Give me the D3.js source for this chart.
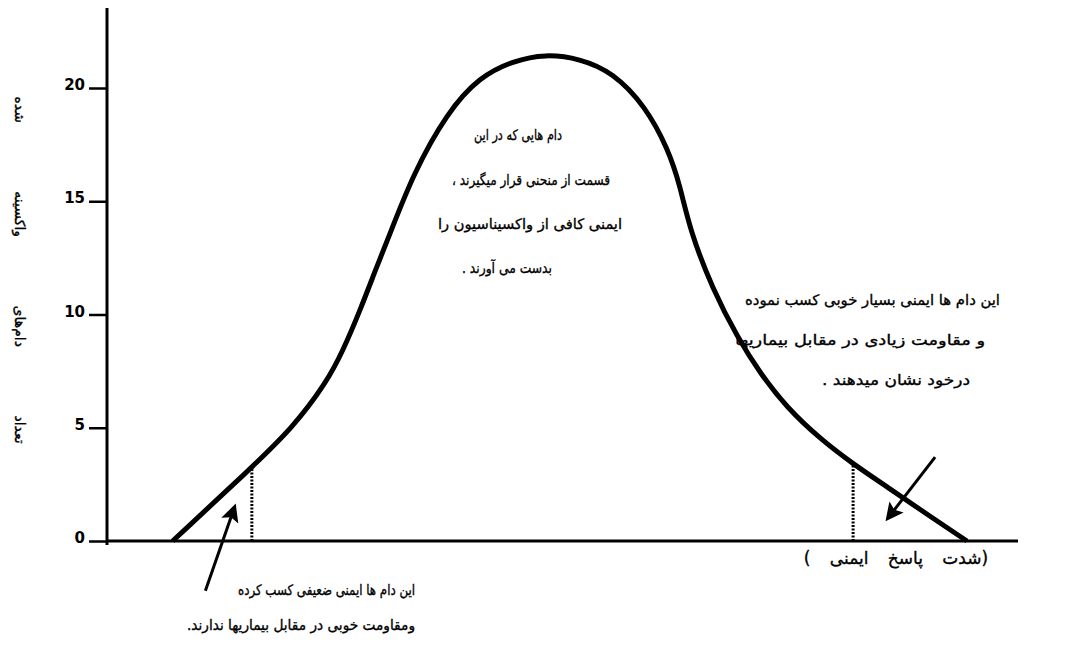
<!DOCTYPE html>
<html lang="fa">
<head>
    <meta charset="UTF-8">
    <title>منحنی پاسخ ایمنی</title>
    <style>
        body {
            margin: 0;
            background: #fff;
        }
        text {
            font-family: "DejaVu Sans", sans-serif;
            fill: #000;
        }
        .note {
            font-size: 14.6px;
            stroke: #000;
            stroke-width: 0.35px;
        }
        .tick text {
            font-family: "DejaVu Sans", sans-serif;
            font-weight: bold;
            font-size: 15px;
        }
    </style>
</head>
<body>
    <div id="chart"></div>

    <script src="https://d3js.org/d3.v7.min.js"></script>
    <script>
        // curve (x: response intensity, arbitrary 0-100; y: number of animals)
        const curveX = [7.2, 15.5, 20.4, 24.1, 25.9, 27.8, 29.6, 31.1, 33.6, 37.3, 40.9, 44.6, 48.1,
            51.9, 55.5, 59.1, 61.6, 62.9, 64.0, 66.5, 69.2, 71.7, 74.6, 78.3, 81.9, 85.6, 89.2, 94.4];
        const curveY = [0, 3.1, 5.0, 7.0, 8.4, 10.2, 12.1, 13.6, 16.2, 18.9, 20.5, 21.2, 21.5,
            21.3, 20.7, 19.2, 17.3, 15.7, 13.7, 11.1, 9.0, 7.4, 5.9, 4.5, 3.4, 2.4, 1.4, 0];
        const yTicks = [0, 5, 10, 15, 20];
        const cutoffX = [15.9, 81.9];   // dotted lines under the tails
        // arrows: [fromX, fromY, toX, toY]
        const arrows = [
            [10.8, -2.2, 14.0, 1.5],
            [90.9, 3.7, 85.7, 1.0]
        ];

        const yTitle = "تعداد دام‌های واکسینه شده";
        const xTitle = "(شدت پاسخ ایمنی )";
        const middleNote = ["دام هایی که در این", "قسمت از منحنی قرار میگیرند ،", "ایمنی کافی از واکسیناسیون را", "بدست می آورند ."];
        const rightNote = ["این دام ها ایمنی بسیار خوبی کسب نموده", "و مقاومت زیادی در مقابل بیماریها", "درخود نشان میدهند ."];
        const leftNote = ["این دام ها ایمنی ضعیفی کسب کرده", "ومقاومت خوبی در مقابل بیماریها ندارند."];

        const width = 1091;
        const height = 646;

        const svg = d3.select("#chart").append("svg")
            .attr("width", width)
            .attr("height", height);

        const x = d3.scaleLinear().domain([0, 100]).range([107, 1018]);
        const y = d3.scaleLinear().domain([0, 20]).range([541, 88]);

        // y axis
        const yAxis = svg.append("g")
            .attr("transform", "translate(107,0)")
            .call(d3.axisLeft(y).tickValues(yTicks).tickSize(18).tickPadding(4).tickSizeOuter(0));
        yAxis.select(".domain").remove();
        yAxis.selectAll(".tick line").attr("stroke-width", 2.5);
        yAxis.selectAll(".tick text").attr("dy", "0.1em");

        svg.append("line")
            .attr("x1", 107).attr("x2", 107)
            .attr("y1", y(0) + 4).attr("y2", 8)
            .attr("stroke", "#000").attr("stroke-width", 3);

        // x axis
        svg.append("line")
            .attr("x1", x(0)).attr("x2", x(100))
            .attr("y1", y(0)).attr("y2", y(0))
            .attr("stroke", "#000").attr("stroke-width", 3);

        // bell curve
        const points = curveX.map((v, i) => [v, curveY[i]]);
        const curvePath = svg.append("path")
            .datum(points)
            .attr("fill", "none")
            .attr("stroke", "#000")
            .attr("stroke-width", 5)
            .attr("stroke-linejoin", "round")
            .attr("d", d3.line().x(d => x(d[0])).y(d => y(d[1])).curve(d3.curveBasis));

        // dotted cut-off lines, up to where they meet the drawn curve
        const node = curvePath.node();
        const total = node.getTotalLength();
        const curveTop = px => {
            let lo = 0, hi = total;
            for (let k = 0; k < 40; k++) {
                const mid = (lo + hi) / 2;
                if (node.getPointAtLength(mid).x < px) lo = mid; else hi = mid;
            }
            return node.getPointAtLength(lo).y;
        };
        svg.append("g").selectAll("line")
            .data(cutoffX)
            .enter().append("line")
            .attr("x1", d => x(d)).attr("x2", d => x(d))
            .attr("y1", y(0)).attr("y2", d => curveTop(x(d)))
            .attr("stroke", "#000")
            .attr("stroke-width", 3)
            .attr("stroke-dasharray", "2,1.5");

        // arrows
        svg.append("defs").append("marker")
            .attr("id", "head")
            .attr("viewBox", "0 0 10 10")
            .attr("refX", 8).attr("refY", 5)
            .attr("markerWidth", 7).attr("markerHeight", 6)
            .attr("markerUnits", "strokeWidth")
            .attr("orient", "auto")
            .append("path")
            .attr("d", "M0,0 L10,5 L0,10 L2,5 Z")
            .attr("fill", "#000");

        svg.append("g").selectAll("line")
            .data(arrows)
            .enter().append("line")
            .attr("x1", d => x(d[0])).attr("y1", d => y(d[1]))
            .attr("x2", d => x(d[2])).attr("y2", d => y(d[3]))
            .attr("stroke", "#000")
            .attr("stroke-width", 3)
            .attr("marker-end", "url(#head)");

        // axis titles
        svg.append("text")
            .attr("class", "note")
            .attr("transform", "translate(20,270) rotate(90)")
            .attr("text-anchor", "middle")
            .attr("direction", "rtl")
            .attr("dy", "0.35em")
            .style("font-size", "14px")
            .style("word-spacing", "64px")
            .text(yTitle);

        svg.append("text")
            .attr("class", "note")
            .attr("x", 896).attr("y", 564)
            .attr("text-anchor", "middle")
            .attr("direction", "rtl")
            .style("font-size", "17px")
            .style("word-spacing", "14px")
            .text(xTitle);

        // notes: each line placed in the span [left, right] it takes in the original
        function note(lines, boxes) {
            svg.append("g").selectAll("text")
                .data(lines)
                .enter().append("text")
                .attr("class", "note")
                .attr("x", (d, i) => (boxes[i][0] + boxes[i][1]) / 2)
                .attr("y", (d, i) => boxes[i][2])
                .attr("text-anchor", "middle")
                .attr("direction", "rtl")
                .attr("textLength", (d, i) => boxes[i][1] - boxes[i][0])
                .attr("lengthAdjust", "spacingAndGlyphs")
                .text(d => d);
        }
        note(middleNote, [[474, 562, 140], [452, 610, 185], [438, 622, 229], [462, 552, 273]]);
        note(rightNote, [[745, 1000, 305], [735, 985, 345], [822, 970, 385]]);
        note(leftNote, [[238, 415, 595], [187, 415, 630]]);
    </script>
</body>
</html>
